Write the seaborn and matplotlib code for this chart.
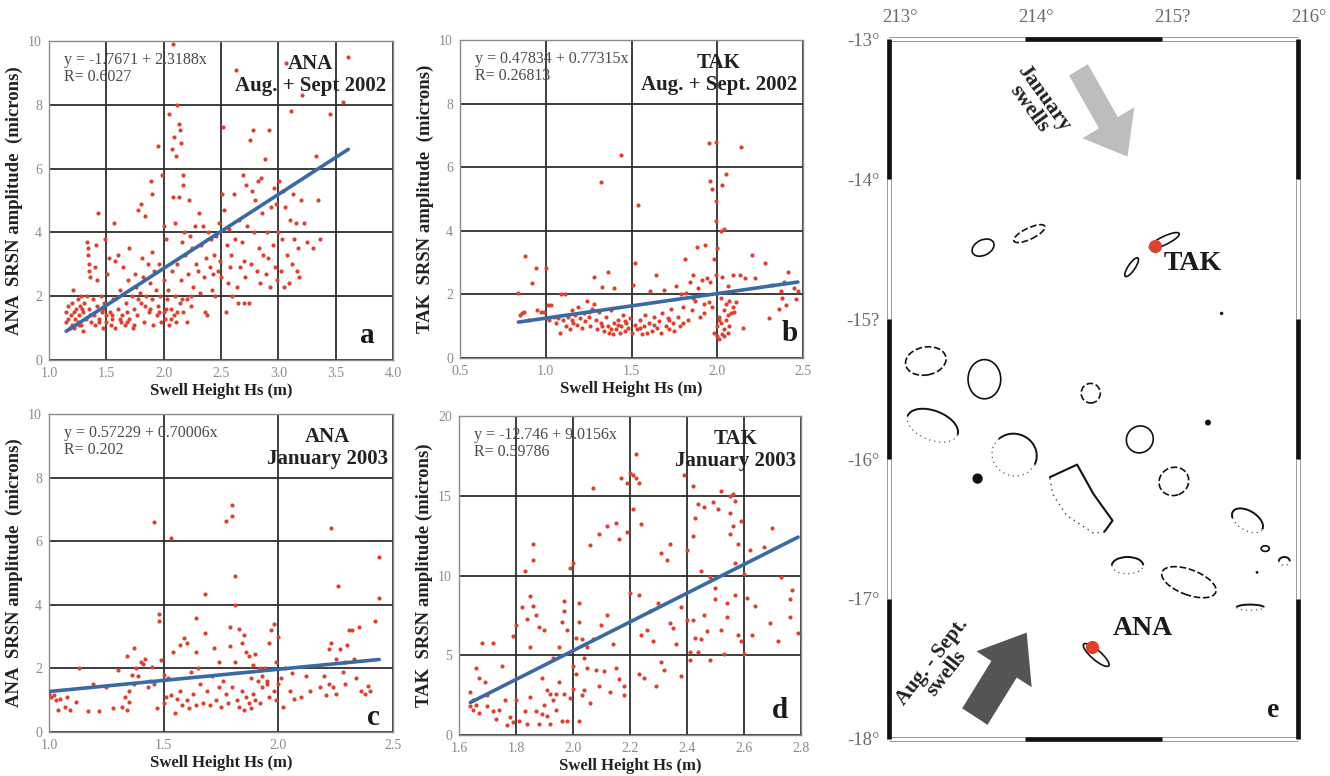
import numpy as np
import pandas as pd
import matplotlib
matplotlib.use("Agg")
import matplotlib.pyplot as plt
import matplotlib.transforms as mtransforms
import seaborn as sns
from matplotlib.patches import Ellipse, Arc, FancyArrow

# ---------------- Panel a: ANA Aug + Sept 2002 ----------------
a_x = [1.15,1.15,1.17,1.17,1.18,1.19,1.2,1.2,1.21,1.22,1.23,1.24,1.25,1.25,1.26,1.27,1.28,1.28,1.3,1.3,
       1.31,1.32,1.33,1.33,1.34,1.34,1.35,1.35,1.35,1.36,1.37,1.38,1.39,1.4,1.4,1.41,1.42,1.42,1.43,1.44,
       1.45,1.46,1.47,1.48,1.49,1.5,1.5,
       1.51,1.52,1.53,1.54,1.55,1.56,1.57,1.58,1.58,1.6,1.6,1.62,1.63,1.64,1.65,1.66,1.67,1.68,1.69,1.7,
       1.7,1.72,1.73,1.74,1.75,1.76,1.77,1.78,1.79,1.8,1.8,1.81,1.82,1.83,1.84,1.85,1.86,1.87,1.88,1.89,
       1.9,1.9,1.9,1.91,1.92,1.93,1.94,1.95,1.95,1.96,1.97,1.98,1.99,2.0,2.0,2.0,2.01,2.02,2.03,2.04,
       2.05,2.05,2.06,2.07,2.07,2.08,2.08,2.09,2.09,2.1,2.1,2.11,2.11,2.12,2.12,2.13,2.13,2.14,2.14,2.15,
       2.15,2.16,2.17,2.17,2.17,2.18,2.19,2.2,2.21,2.22,2.23,2.24,2.25,2.26,2.27,2.28,2.3,2.31,2.32,2.33,
       2.34,2.35,2.36,2.37,2.38,2.39,2.4,2.41,2.42,2.43,2.44,2.45,2.46,2.47,2.48,2.49,2.5,2.51,2.52,2.53,
       2.54,2.55,2.56,2.57,2.58,2.59,2.6,2.61,2.62,2.63,2.64,2.65,2.66,2.67,2.68,2.69,2.7,2.7,2.71,2.72,
       2.73,2.74,2.75,2.76,2.77,2.78,2.79,2.8,2.81,2.82,2.83,2.84,2.85,2.86,2.87,2.88,2.89,2.9,2.91,2.92,
       2.93,2.94,2.95,2.96,2.97,2.98,2.99,3.0,3.01,3.02,3.03,3.04,3.05,3.06,3.07,3.08,3.09,3.1,3.11,3.12,
       3.13,3.14,3.15,3.16,3.17,3.18,3.2,3.21,3.22,3.25,3.3,3.33,3.35,3.36,3.45,3.56,3.61,
       1.22,1.26,1.29,1.36,1.44,1.47,1.55,1.62,1.68,1.74,1.78,1.84,1.88,1.96,2.02,2.06,2.12,2.16,2.2,2.24]
a_y = [1.2,1.5,1.3,1.7,1.0,1.4,1.8,1.1,2.2,1.5,1.3,1.6,1.9,1.2,1.4,1.7,2.0,1.1,1.5,0.9,
       1.8,1.3,2.0,3.7,3.5,3.3,3.0,2.8,1.6,2.6,1.2,1.9,1.4,2.9,1.1,3.6,1.7,2.5,4.6,1.3,
       2.0,1.5,1.0,1.8,3.8,1.4,1.2,
       2.7,3.2,1.5,1.1,1.3,1.9,4.3,3.1,1.0,3.3,1.6,2.2,1.2,1.4,2.9,1.1,1.8,1.5,2.5,3.5,
       1.3,2.0,1.0,1.6,2.7,2.3,1.4,4.7,2.1,4.9,1.8,3.2,2.6,1.2,4.5,2.0,3.0,1.5,2.4,5.6,
       5.2,1.9,3.4,1.1,2.8,2.2,1.4,6.7,1.7,3.0,2.0,1.2,5.8,2.5,1.5,4.2,1.3,3.8,1.9,2.2,
       1.1,7.7,1.6,2.8,6.6,9.9,5.1,1.4,7.0,2.0,4.3,6.4,1.2,3.0,8.0,7.4,5.1,7.2,1.8,6.8,
       2.5,3.7,5.5,5.8,1.5,4.0,3.3,1.9,2.7,5.0,3.9,1.7,3.5,2.3,4.2,3.0,2.8,4.6,2.1,3.6,
       4.2,2.6,1.5,3.2,1.4,4.0,2.9,3.8,2.2,2.7,3.3,2.0,3.9,2.8,4.3,3.1,2.6,5.2,7.3,4.7,
       1.5,3.6,2.4,4.1,2.9,3.3,2.0,5.2,3.8,9.1,2.3,1.8,4.4,2.9,3.7,5.8,1.8,3.1,2.6,5.5,
       4.2,1.8,6.9,3.0,5.3,7.2,4.0,5.0,2.8,5.6,3.5,2.4,5.7,4.6,3.3,6.3,2.7,4.0,3.2,7.2,
       2.3,4.8,3.6,5.4,2.9,4.9,2.5,4.0,5.6,2.8,3.8,5.3,2.3,4.8,9.3,3.3,2.4,4.4,7.8,3.0,
       5.2,3.8,4.3,2.8,3.5,2.6,5.0,8.3,4.3,3.7,3.5,6.4,5.0,3.8,7.7,8.1,9.5,
       1.0,1.1,1.6,1.4,1.2,1.6,1.4,1.3,1.2,1.1,1.9,1.7,1.6,1.5,1.6,1.3,1.5,1.9,1.2,2.0]

# ---------------- Panel b: TAK Aug + Sept 2002 ----------------
b_x = [0.84,0.85,0.86,0.87,0.88,0.9,0.92,0.94,0.95,0.97,0.99,1.0,1.01,1.02,1.03,1.05,1.06,1.07,1.08,1.09,
       1.1,1.11,1.12,1.13,1.14,1.15,1.16,1.17,1.18,1.19,1.2,1.21,1.22,1.23,1.24,1.25,1.26,1.27,1.28,1.28,
       1.29,1.3,1.31,1.32,1.32,1.33,1.34,1.35,1.36,1.36,1.37,1.38,1.39,1.4,1.4,1.41,1.42,1.43,1.44,1.44,
       1.45,1.46,1.47,1.48,1.49,1.5,1.51,1.52,1.52,1.53,1.54,1.55,1.56,1.57,1.58,1.59,1.6,1.61,1.62,1.63,
       1.64,1.65,1.66,1.67,1.68,1.69,1.7,1.71,1.72,1.73,1.74,1.75,1.76,1.77,1.78,1.79,1.8,1.81,1.82,1.83,
       1.84,1.85,1.86,1.87,1.88,1.89,1.9,1.91,1.92,1.93,1.94,1.95,1.95,1.96,1.96,1.97,1.97,1.98,1.98,1.99,
       1.99,1.99,1.99,2.0,2.0,2.0,2.0,2.01,2.01,2.02,2.02,2.02,2.03,2.03,2.03,2.04,2.04,2.04,2.05,2.05,
       2.05,2.06,2.06,2.07,2.07,2.08,2.09,2.09,2.1,2.11,2.13,2.14,2.15,2.16,2.2,2.22,2.28,2.3,2.32,2.36,
       2.37,2.38,2.39,2.4,2.41,2.45,2.46,2.47,
       1.15,1.25,1.33,1.38,1.42,1.46,1.55,1.63,1.72,1.8,1.86,1.92,2.01,2.04,2.06]
b_y = [2.03,1.35,1.42,1.45,3.2,1.2,2.35,2.83,1.5,1.44,1.45,2.83,1.67,1.2,1.65,1.3,1.1,1.25,0.8,2.0,
       1.2,2.0,1.0,1.3,0.9,1.5,1.1,1.35,1.05,1.6,1.25,0.95,1.4,1.15,1.8,1.3,1.0,1.55,1.7,2.55,
       1.2,0.9,1.45,1.1,5.52,2.22,0.85,1.3,2.7,1.0,0.8,1.5,0.75,1.1,2.2,0.9,1.2,0.8,6.37,1.0,
       1.35,0.85,1.1,0.95,1.25,0.8,2.3,2.98,1.05,0.9,4.8,1.2,0.75,1.0,1.35,0.8,1.1,2.1,0.85,1.3,
       2.62,0.95,1.15,0.8,1.4,2.15,1.0,1.25,0.9,1.55,1.1,0.85,2.25,1.3,1.0,2.0,1.6,3.1,2.05,1.2,
       2.4,1.5,2.6,1.8,3.5,2.2,1.3,2.45,1.7,3.56,2.5,6.76,1.75,5.55,2.4,5.3,1.6,3.1,0.8,6.8,
       4.95,4.3,2.6,1.0,0.7,3.45,2.05,1.3,0.6,4.0,1.9,1.1,5.45,2.55,0.75,4.05,1.5,0.9,5.8,1.7,
       1.2,2.25,0.8,1.8,1.0,1.4,2.6,1.6,1.45,1.75,2.6,6.62,0.95,2.5,3.25,2.5,2.98,1.25,2.3,1.55,
       2.1,1.9,2.4,1.65,2.7,2.2,1.85,2.1,
       1.2,1.45,1.0,0.9,1.05,1.15,0.95,1.05,1.2,1.1,1.9,1.4,1.2,0.7,1.35]

# ---------------- Panel c: ANA January 2003 ----------------
c_x = [1.0,1.01,1.02,1.03,1.04,1.05,1.07,1.08,1.09,1.12,1.13,1.17,1.19,1.22,1.25,1.28,1.3,1.32,1.33,1.34,
       1.34,1.35,1.35,1.36,1.37,1.37,1.38,1.39,1.4,1.41,1.42,1.43,1.44,1.45,1.46,1.46,1.47,1.48,1.48,1.49,
       1.5,1.5,1.51,1.52,1.53,1.53,1.54,1.55,1.56,1.57,1.57,1.58,1.59,1.6,1.6,1.61,1.62,1.63,1.64,1.64,
       1.64,1.65,1.66,1.67,1.68,1.68,1.69,1.7,1.71,1.72,1.73,1.74,1.74,1.75,1.76,1.77,1.77,1.78,1.79,1.79,
       1.8,1.8,1.8,1.81,1.81,1.81,1.82,1.83,1.83,1.84,1.84,1.85,1.85,1.86,1.86,1.87,1.87,1.88,1.88,1.89,
       1.89,1.9,1.9,1.91,1.92,1.92,1.93,1.93,1.94,1.95,1.95,1.96,1.96,1.97,1.98,1.98,1.99,1.99,2.0,2.0,
       2.01,2.02,2.03,2.05,2.06,2.07,2.1,2.12,2.14,2.18,2.2,2.21,2.22,2.22,2.23,2.23,2.24,2.25,2.25,2.26,
       2.27,2.28,2.29,2.29,2.3,2.31,2.32,2.33,2.34,2.35,2.36,2.38,2.39,2.4,2.42,2.44,2.44]
c_y = [1.2,1.1,1.15,1.0,0.7,1.05,0.8,1.1,0.7,0.95,2.0,0.65,1.5,0.65,1.4,0.75,1.95,0.8,1.1,2.4,
       0.7,1.3,0.95,1.8,2.65,1.5,2.0,1.75,2.2,2.15,2.3,1.4,1.6,2.05,6.6,1.5,0.75,3.7,3.5,2.25,
       1.8,0.9,1.1,1.7,6.1,1.15,2.5,0.6,1.05,2.75,1.3,0.85,2.95,2.8,1.0,0.75,1.9,1.2,3.6,2.5,
       0.85,2.0,1.5,0.9,4.35,3.1,1.3,0.85,1.75,2.65,1.0,2.2,1.4,0.8,1.6,6.65,1.2,0.9,2.7,3.3,
       1.4,7.15,6.8,4.9,4.0,2.2,1.0,3.25,0.8,2.8,1.3,3.05,0.7,2.5,1.1,2.4,0.9,1.7,0.75,2.1,
       1.2,2.45,1.0,1.6,2.0,0.9,1.4,1.75,2.0,1.5,1.6,2.8,1.1,3.2,3.4,1.3,2.2,1.0,3.0,1.5,
       1.7,0.8,2.0,1.3,1.85,1.05,1.1,1.75,1.3,1.4,1.75,1.15,2.6,1.5,2.8,6.4,1.4,2.3,1.2,4.6,
       2.6,1.9,2.2,1.5,2.75,3.2,3.2,2.3,1.7,3.3,1.3,1.2,1.45,1.3,3.5,5.5,4.2]

# ---------------- Panel d: TAK January 2003 ----------------
d_x = [1.64,1.64,1.65,1.65,1.66,1.66,1.67,1.67,1.68,1.69,1.7,1.7,1.72,1.72,1.73,1.74,1.75,1.76,1.77,1.78,
       1.79,1.79,1.8,1.8,1.81,1.82,1.83,1.83,1.84,1.84,1.85,1.85,1.85,1.86,1.86,1.86,1.87,1.87,1.88,1.88,
       1.89,1.89,1.9,1.9,1.91,1.91,1.92,1.92,1.93,1.93,1.94,1.94,1.95,1.95,1.96,1.96,1.97,1.97,1.97,1.98,
       1.98,1.99,1.99,2.0,2.0,2.0,2.01,2.01,2.02,2.02,2.02,2.03,2.03,2.04,2.04,2.05,2.05,2.06,2.06,2.07,
       2.07,2.08,2.09,2.09,2.1,2.11,2.12,2.12,2.13,2.14,2.15,2.15,2.16,2.16,2.17,2.18,2.18,2.19,2.19,2.2,
       2.2,2.21,2.21,2.22,2.22,2.23,2.23,2.23,2.24,2.24,2.25,2.26,2.27,2.28,2.29,2.3,2.31,2.31,2.32,2.33,
       2.34,2.34,2.35,2.36,2.38,2.38,2.39,2.4,2.4,2.41,2.41,2.42,2.42,2.42,2.43,2.43,2.44,2.44,2.45,2.45,
       2.46,2.46,2.47,2.48,2.48,2.49,2.5,2.5,2.51,2.52,2.52,2.53,2.54,2.54,2.55,2.55,2.55,2.56,2.56,2.57,
       2.57,2.57,2.58,2.58,2.59,2.59,2.6,2.6,2.61,2.62,2.63,2.64,2.67,2.69,2.7,2.72,2.73,2.76,2.76,2.77,
       2.79]
d_y = [2.7,1.8,2.2,1.6,4.2,1.9,3.6,1.4,5.8,3.3,1.8,2.5,5.8,1.5,1.0,1.6,4.3,2.2,0.6,1.1,
       6.2,0.8,2.2,6.9,0.9,8.0,1.5,10.3,7.3,0.7,8.7,5.5,2.4,12.0,11.0,8.1,7.5,1.5,6.8,0.7,
       3.6,1.3,1.9,6.6,2.8,1.2,2.6,0.7,2.2,4.8,2.6,1.6,3.3,5.5,0.9,7.1,8.4,7.8,2.6,6.6,
       0.9,10.5,2.3,10.8,4.3,2.9,6.1,3.8,8.3,7.1,0.9,6.0,2.5,4.8,2.8,5.5,4.2,2.0,11.9,15.5,
       6.0,4.1,12.6,3.1,6.9,4.0,7.5,13.1,2.7,5.7,4.2,13.3,12.3,3.5,16.1,2.5,3.1,15.8,12.7,16.4,
       8.9,14.2,16.3,16.1,17.6,15.8,8.8,3.8,13.2,6.3,3.6,6.6,7.8,5.9,3.1,8.3,11.4,4.6,4.1,11.0,
       12.0,7.0,6.7,5.7,8.0,3.7,16.3,11.6,7.2,5.2,4.7,12.5,15.6,7.2,13.6,6.1,14.5,5.2,6.0,10.3,
       14.3,7.5,6.5,4.7,9.9,14.6,9.2,8.5,14.2,6.6,15.3,5.1,8.3,7.4,13.9,12.6,15.0,15.1,13.1,10.8,
       8.8,14.7,12.0,6.3,13.4,5.9,10.1,5.1,8.6,11.6,6.3,8.1,11.8,7.0,13.0,5.9,9.9,8.5,7.4,9.1,
       6.4]

# published regression fits (intercept, slope) and statistics
fit_intercepts = [-1.7671, 0.47834, 0.57229, -12.746]
fit_slopes = [2.3188, 0.77315, 0.70006, 9.0156]
equation_texts = ["y = -1.7671 + 2.3188x\nR= 0.6027",
                  "y = 0.47834 + 0.77315x\nR= 0.26813",
                  "y = 0.57229 + 0.70006x\nR= 0.202",
                  "y = -12.746 + 9.0156x\nR= 0.59786"]
station_texts = ["ANA\nAug. + Sept 2002", "TAK\nAug. + Sept. 2002",
                 "ANA\nJanuary 2003", "TAK\nJanuary 2003"]
panel_letters = ["a", "b", "c", "d"]
y_labels = ["ANA  SRSN amplitude  (microns)", "TAK  SRSN amplitude  (microns)",
            "ANA  SRSN amplitude  (microns)", "TAK  SRSN amplitude (microns)"]
x_label = "Swell Height Hs (m)"
x_ticks = [[1.0, 1.5, 2.0, 2.5, 3.0, 3.5, 4.0],
           [0.5, 1.0, 1.5, 2.0, 2.5],
           [1.0, 1.5, 2.0, 2.5],
           [1.6, 1.8, 2.0, 2.2, 2.4, 2.6, 2.8]]
y_ticks = [[0, 2, 4, 6, 8, 10], [0, 2, 4, 6, 8, 10], [0, 2, 4, 6, 8, 10], [0, 5, 10, 15, 20]]

# ---------------- Panel e: map ----------------
lon_ticks = [213, 214, 215, 216]
lon_labels = ["213°", "214°", "215?", "216°"]
lat_ticks = [-18, -17, -16, -15, -14, -13]
lat_labels = ["-18°", "-17°", "-16°", "-15?", "-14°", "-13°"]
station_names = ["TAK", "ANA"]
station_lon = [214.95, 214.49]
station_lat = [-14.48, -17.34]
# atolls approximated as ellipses: lon, lat, width, height, angle, dashed?
atoll_lon = [213.69, 214.03, 215.02, 214.78, 213.27, 213.70, 214.48, 214.84, 215.09, 215.20, 214.52, 215.76]
atoll_lat = [-14.49, -14.39, -14.44, -14.63, -15.30, -15.43, -15.53, -15.86, -16.16, -16.88, -17.40, -16.64]
atoll_w = [0.17, 0.25, 0.24, 0.16, 0.30, 0.24, 0.14, 0.20, 0.22, 0.42, 0.24, 0.06]
atoll_h = [0.11, 0.08, 0.06, 0.05, 0.20, 0.28, 0.14, 0.19, 0.20, 0.18, 0.07, 0.04]
atoll_ang = [25, 25, 25, 55, 10, 0, 0, 30, 20, -20, -40, 0]
atoll_dash = [False, True, False, False, True, False, True, False, True, True, False, False]
# atoll rims as partial arcs: lon, lat, width, height, angle, theta1, theta2
arc_lon = [213.32, 213.92, 215.63, 214.75, 215.65, 215.90]
arc_lat = [-15.76, -15.97, -16.44, -16.76, -17.06, -16.73]
arc_w = [0.39, 0.33, 0.25, 0.23, 0.20, 0.08]
arc_h = [0.21, 0.30, 0.14, 0.12, 0.04, 0.06]
arc_ang = [-20, -15, -30, 0, 0, 0]
arc_t1 = [0, -10, 0, 0, 0, 0]
arc_t2 = [180, 150, 200, 180, 180, 180]
# large atoll rim (solid east side, broken west side)
big_rim_lon = [214.18, 214.38, 214.50, 214.64, 214.58]
big_rim_lat = [-16.13, -16.04, -16.25, -16.44, -16.52]
big_lagoon_lon = [214.58, 214.50, 214.30, 214.20, 214.18]
big_lagoon_lat = [-16.52, -16.53, -16.40, -16.25, -16.13]
islet_lon = [213.65, 215.44, 215.34, 215.70]
islet_lat = [-16.14, -14.96, -15.74, -16.81]
islet_size = [55, 6, 18, 4]

# swell arrows: tail lon, tail lat, tip lon, tip lat
jan_arrow = [214.39, -13.22, 214.75, -13.84]
aug_arrow = [213.63, -17.84, 214.01, -17.24]

# ---------------- styling ----------------
sns.set_style("white")
plt.rcParams['font.family'] = ['Liberation Serif', 'DejaVu Serif']

RED = "#de422e"
BLUE = "#3a6aa3"

fig = plt.figure(figsize=(13.3, 7.76), dpi=100)
positions = [[0.0368, 0.5361, 0.2587, 0.4111],
             [0.3459, 0.5387, 0.2579, 0.4098],
             [0.0368, 0.0567, 0.2587, 0.4098],
             [0.3451, 0.0528, 0.2571, 0.4111]]
xs = [a_x, b_x, c_x, d_x]
ys = [a_y, b_y, c_y, d_y]
st_x = [0.76, 0.755, 0.81, 0.81]
let_pos = [(0.924, 0.077), (0.961, 0.076), (0.942, 0.045), (0.9375, 0.078)]

for i in range(4):
    ax = fig.add_axes(positions[i])
    df = pd.DataFrame({"Hs": xs[i], "amp": ys[i]})
    ax.set_axisbelow(True)
    ax.grid(True, color="#2e2e2e", lw=1.3)
    sns.scatterplot(data=df, x="Hs", y="amp", ax=ax, color=RED, s=9, linewidth=0,
                    zorder=3, legend=False)
    xr = np.array([df["Hs"].min(), df["Hs"].max()])
    fit = pd.DataFrame({"Hs": xr, "amp": fit_intercepts[i] + fit_slopes[i] * xr})
    sns.lineplot(data=fit, x="Hs", y="amp", ax=ax, color=BLUE, lw=2.6, zorder=4)
    ax.set_xlim(x_ticks[i][0], x_ticks[i][-1])
    ax.set_ylim(y_ticks[i][0], y_ticks[i][-1])
    ax.set_xticks(x_ticks[i])
    ax.set_xticklabels([f"{v:.1f}" for v in x_ticks[i]])
    ax.set_yticks(y_ticks[i])
    ax.set_yticklabels([f"{v:d}" for v in y_ticks[i]])
    ax.tick_params(axis="both", colors="#8a8a8a", labelsize=10, length=3, width=0.8, pad=2)
    for sp in ax.spines.values():
        sp.set_color("#8a8a8a")
        sp.set_linewidth(1.0)
    ax.set_xlabel(x_label, fontsize=12, fontweight="bold", color="#222222", labelpad=2)
    ax.set_ylabel(y_labels[i], fontsize=13.5, fontweight="bold", color="#222222", labelpad=4)
    ax.text(0.045, 0.965, equation_texts[i], transform=ax.transAxes, ha="left", va="top",
            fontsize=11.5, color="#4a4a4a", linespacing=1.05, zorder=5)
    ax.text(st_x[i], 0.958, station_texts[i], transform=ax.transAxes, ha="center", va="top",
            fontsize=15, fontweight="bold", color="#222222", linespacing=1.1,
            multialignment="center", zorder=5)
    ax.text(let_pos[i][0], let_pos[i][1], panel_letters[i], transform=ax.transAxes,
            ha="center", va="center", fontsize=21, fontweight="bold", color="#1a1a1a", zorder=5)

# ---------------- map panel ----------------
axm = fig.add_axes([0.6684, 0.0477, 0.3075, 0.902])
axm.set_xlim(213, 216)
axm.set_ylim(-18, -13)
axm.set_xticks(lon_ticks)
axm.set_yticks(lat_ticks)
axm.set_xticklabels([])
axm.set_yticklabels(lat_labels)
axm.tick_params(axis="both", length=0, colors="#6a6a6a", labelsize=13.5)
axm.tick_params(axis="y", pad=7)
for sp in axm.spines.values():
    sp.set_visible(False)
# top longitude labels, slightly right of their meridian as in the original
top_tr = mtransforms.blended_transform_factory(axm.transData, axm.transAxes) + \
    mtransforms.ScaledTranslation(0.11, 0.0, fig.dpi_scale_trans)
for lt, ll in zip(lon_ticks, lon_labels):
    axm.text(lt, 1.018, ll, transform=top_tr, ha="center", va="bottom", fontsize=13.5,
             color="#6a6a6a", clip_on=False)

# GMT-style fancy frame
def frame_seg(xa, ya, black):
    if black:
        axm.plot(xa, ya, color="#111111", lw=3.4, solid_capstyle="butt", clip_on=False, zorder=6)
    else:
        axm.plot(xa, ya, color="#9a9a9a", lw=3.6, solid_capstyle="butt", clip_on=False, zorder=5)
        axm.plot(xa, ya, color="white", lw=2.2, solid_capstyle="butt", clip_on=False, zorder=5.5)

for k in range(5):
    lo, hi = -18 + k, -17 + k
    blk = (k % 2 == 0)
    frame_seg([213, 213], [lo, hi], blk)
    frame_seg([216, 216], [lo, hi], blk)
for k in range(3):
    lo, hi = 213 + k, 214 + k
    blk = (k == 1)
    frame_seg([lo, hi], [-13, -13], blk)
    frame_seg([lo, hi], [-18, -18], blk)

for j in range(len(atoll_lon)):
    ls = (0, (4, 1.6)) if atoll_dash[j] else "-"
    e = Ellipse((atoll_lon[j], atoll_lat[j]), atoll_w[j], atoll_h[j], angle=atoll_ang[j],
                fill=False, edgecolor="#111111", lw=1.2, linestyle=ls, zorder=3)
    axm.add_patch(e)
for j in range(len(arc_lon)):
    a = Arc((arc_lon[j], arc_lat[j]), arc_w[j], arc_h[j], angle=arc_ang[j],
            theta1=arc_t1[j], theta2=arc_t2[j], edgecolor="#111111", lw=1.4, zorder=3)
    axm.add_patch(a)
    b = Arc((arc_lon[j], arc_lat[j]), arc_w[j], arc_h[j], angle=arc_ang[j],
            theta1=arc_t2[j], theta2=arc_t1[j] + 360, edgecolor="#555555", lw=0.9,
            linestyle=(0, (1, 3)), zorder=3)
    axm.add_patch(b)
sns.lineplot(x=big_rim_lon, y=big_rim_lat, ax=axm, color="#111111", lw=1.5, sort=False,
             estimator=None, zorder=3)
sns.lineplot(x=big_lagoon_lon, y=big_lagoon_lat, ax=axm, color="#444444", lw=1.0, sort=False,
             estimator=None, linestyle=(0, (1, 3)), zorder=3)
sns.scatterplot(x=islet_lon, y=islet_lat, s=islet_size, color="#111111", linewidth=0, ax=axm,
                zorder=3, legend=False)
sns.scatterplot(x=station_lon, y=station_lat, s=90, color=RED, linewidth=0, ax=axm,
                zorder=4, legend=False)

# arrows
dx1, dy1 = jan_arrow[2] - jan_arrow[0], jan_arrow[3] - jan_arrow[1]
axm.add_patch(FancyArrow(jan_arrow[0], jan_arrow[1], dx1, dy1, width=0.16, head_width=0.44,
                         head_length=0.28, length_includes_head=True, color="#bdbdbd",
                         linewidth=0, zorder=2))
dx2, dy2 = aug_arrow[2] - aug_arrow[0], aug_arrow[3] - aug_arrow[1]
axm.add_patch(FancyArrow(aug_arrow[0], aug_arrow[1], dx2, dy2, width=0.22, head_width=0.48,
                         head_length=0.31, length_includes_head=True, color="#545454",
                         linewidth=0, zorder=2))

axm.text(214.08, -13.46, "January\nswells", rotation=-54, rotation_mode="anchor",
         ha="center", va="center", fontsize=15.5, fontweight="bold", color="#222222",
         linespacing=0.9, multialignment="center")
axm.text(213.37, -17.49, "Aug. - Sept.\nswells", rotation=52, rotation_mode="anchor",
         ha="center", va="center", fontsize=15, fontweight="bold", color="#222222",
         linespacing=0.9, multialignment="center")
axm.text(215.23, -14.6, station_names[0], ha="center", va="center", fontsize=20,
         fontweight="bold", color="#1a1a1a")
axm.text(214.86, -17.21, station_names[1], ha="center", va="center", fontsize=20,
         fontweight="bold", color="#1a1a1a")
axm.text(215.82, -17.8, "e", ha="center", va="center", fontsize=20, fontweight="bold",
         color="#1a1a1a")
axm.set_xlabel("")
axm.set_ylabel("")

fig.savefig("out.png", dpi=100)
